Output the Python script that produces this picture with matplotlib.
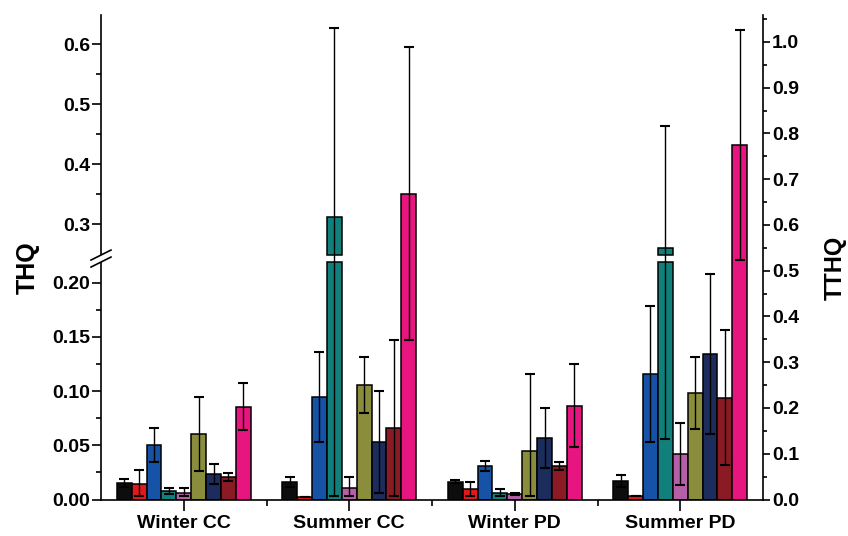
import numpy as np
import matplotlib
matplotlib.use("Agg")
import matplotlib.pyplot as plt
from matplotlib.ticker import FixedLocator, FixedFormatter
from matplotlib.patches import Rectangle
from matplotlib.lines import Line2D

plt.rcParams["font.family"] = ["Liberation Sans", "DejaVu Sans"]
plt.rcParams["font.weight"] = "bold"

# ---- data -------------------------------------------------------------
groups = ["Winter CC", "Summer CC", "Winter PD", "Summer PD"]

# THQ of the individual elements (left axis), mean and SD per group
thq_black = [0.0149, 0.0159, 0.0164, 0.0171]
thq_black_sd = [0.0037, 0.0046, 0.0016, 0.0055]
thq_red = [0.0140, 0.0026, 0.0097, 0.0035]
thq_red_sd = [0.0132, 0.0, 0.0062, 0.0]
thq_blue = [0.0502, 0.0947, 0.0309, 0.1157]
thq_blue_sd = [0.0154, 0.0415, 0.0046, 0.0630]
thq_teal = [0.0078, 0.313, 0.0063, 0.260]
thq_teal_sd = [0.0025, 0.315, 0.0034, 0.204]
thq_purple = [0.0057, 0.0109, 0.0048, 0.0419]
thq_purple_sd = [0.0046, 0.0096, 0.0010, 0.0289]
thq_olive = [0.0604, 0.1055, 0.0450, 0.0984]
thq_olive_sd = [0.0343, 0.0256, 0.0707, 0.0332]
thq_navy = [0.0232, 0.0533, 0.0570, 0.1341]
thq_navy_sd = [0.0092, 0.0470, 0.0276, 0.0735]
thq_darkred = [0.0210, 0.0662, 0.0309, 0.0938]
thq_darkred_sd = [0.0037, 0.0810, 0.0034, 0.0624]

# total THQ (right axis)
tthq = [0.203, 0.668, 0.205, 0.775]
tthq_sd = [0.051, 0.320, 0.0905, 0.251]

thq_series = [thq_black, thq_red, thq_blue, thq_teal, thq_purple,
              thq_olive, thq_navy, thq_darkred]
thq_sds = [thq_black_sd, thq_red_sd, thq_blue_sd, thq_teal_sd, thq_purple_sd,
           thq_olive_sd, thq_navy_sd, thq_darkred_sd]
thq_colors = ["#0d0d0d", "#e0191f", "#1652a6", "#12807a", "#b65fa9",
              "#8a8d3b", "#1c2c5c", "#8a1b24"]
tthq_color = "#e6157f"

thq_ticks_low = [0.00, 0.05, 0.10, 0.15, 0.20]
thq_ticks_high = [0.3, 0.4, 0.5, 0.6]
thq_minor = [0.025, 0.075, 0.125, 0.175, 0.35, 0.45, 0.55]
tthq_ticks = [0.0, 0.1, 0.2, 0.3, 0.4, 0.5, 0.6, 0.7, 0.8, 0.9, 1.0]
tthq_minor = [0.05, 0.15, 0.25, 0.35, 0.45, 0.55, 0.65, 0.75, 0.85, 0.95, 1.05]

# ---- broken left axis: piecewise linear scale ------------------------
K_LO = 1085.0      # scale below the break
K_HI = 600.0       # scale above the break
Y_LO = 0.2189      # top of the lower segment
Y_HI = 0.2488      # bottom of the upper segment
P_LO = Y_LO * K_LO
P_HI = P_LO + 7.0
Y_TOP = 0.649


def fwd(y):
    y = np.asarray(y, dtype=float)
    mid = P_LO + (y - Y_LO) * (P_HI - P_LO) / (Y_HI - Y_LO)
    return np.where(y <= Y_LO, y * K_LO,
                    np.where(y >= Y_HI, P_HI + (y - Y_HI) * K_HI, mid))


def inv(p):
    p = np.asarray(p, dtype=float)
    mid = Y_LO + (p - P_LO) * (Y_HI - Y_LO) / (P_HI - P_LO)
    return np.where(p <= P_LO, p / K_LO,
                    np.where(p >= P_HI, Y_HI + (p - P_HI) / K_HI, mid))


W, H = 848, 536
fig = plt.figure(figsize=(W / 100, H / 100), dpi=100)
ax = fig.add_axes([101 / W, (H - 499.5) / H, 662 / W, 484.5 / H])
ax.set_yscale("function", functions=(fwd, inv))
ax.set_ylim(0, Y_TOP)
ax.set_xlim(0.5, 4.5)

BAR_W = 0.09
centers = np.arange(1, len(groups) + 1)
err_kw = dict(fmt="none", ecolor="black", elinewidth=1.0, capsize=3.6,
              capthick=1.5)
bar_kw = dict(width=BAR_W, edgecolor="black", linewidth=1.1, zorder=2)

for i, (vals, sds, col) in enumerate(zip(thq_series, thq_sds, thq_colors)):
    vals = np.asarray(vals)
    sds = np.asarray(sds)
    x = centers + (i - 4) * BAR_W
    ax.bar(x, np.minimum(vals, Y_LO), color=col, **bar_kw)
    tall = vals > Y_HI
    if tall.any():
        ax.bar(x[tall], vals[tall] - Y_HI, bottom=Y_HI, color=col, **bar_kw)
    lower = np.clip(np.minimum(sds, vals - 0.003), 0, None)
    ax.errorbar(x, vals, yerr=[lower, sds], zorder=3, **err_kw)

# right axis: total THQ
ax2 = ax.twinx()
ax2.set_ylim(0, 1.059)
vals = np.asarray(tthq)
sds = np.asarray(tthq_sd)
x = centers + 4 * BAR_W
ax2.bar(x, vals, color=tthq_color, **bar_kw)
ax2.errorbar(x, vals, yerr=[sds, sds], zorder=3, **err_kw)

# spines
for a in (ax, ax2):
    a.spines["top"].set_visible(False)
    for s in a.spines.values():
        s.set_linewidth(1.2)
ax.spines["right"].set_visible(False)
ax2.spines["left"].set_visible(False)
ax2.spines["bottom"].set_visible(False)

# ticks
ax.yaxis.set_major_locator(FixedLocator(thq_ticks_low + thq_ticks_high))
ax.yaxis.set_major_formatter(FixedFormatter(
    [f"{t:.2f}" for t in thq_ticks_low] + [f"{t:.1f}" for t in thq_ticks_high]))
ax.yaxis.set_minor_locator(FixedLocator(thq_minor))
ax.xaxis.set_major_locator(FixedLocator(centers))
ax.xaxis.set_major_formatter(FixedFormatter(groups))
ax.xaxis.set_minor_locator(FixedLocator(centers[:-1] + 0.5))
ax2.yaxis.set_major_locator(FixedLocator(tthq_ticks))
ax2.yaxis.set_major_formatter(FixedFormatter([f"{t:.1f}" for t in tthq_ticks]))
ax2.yaxis.set_minor_locator(FixedLocator(tthq_minor))

ax.tick_params(axis="y", which="major", direction="out", length=6.5,
               width=1.2, pad=1.5, labelsize=14)
ax.tick_params(axis="y", which="minor", direction="out", length=3.5, width=1.2)
ax.tick_params(axis="x", which="major", direction="out", length=8,
               width=1.2, pad=3, labelsize=14)
ax.tick_params(axis="x", which="minor", direction="out", length=4.5, width=1.2)
ax2.tick_params(axis="y", which="major", direction="out", length=5,
                width=1.2, pad=1.5, labelsize=14)
ax2.tick_params(axis="y", which="minor", direction="out", length=3, width=1.2)

# break marks on the left axis
f_lo = float(fwd(Y_LO) / fwd(Y_TOP))
f_hi = float(fwd(Y_HI) / fwd(Y_TOP))
ax.add_patch(Rectangle((-0.006, f_lo), 0.012, f_hi - f_lo,
                       transform=ax.transAxes, facecolor="white",
                       edgecolor="none", clip_on=False, zorder=10))
dx = 10 / 662
dy = 5 / 484.5
for f in (f_lo, f_hi):
    ax.add_line(Line2D([-dx, dx], [f - dy, f + dy], transform=ax.transAxes,
                       color="black", linewidth=1.2, clip_on=False, zorder=11))

fig.text(28 / W, 1 - 268 / H, "THQ", rotation=90, ha="center", va="center",
         fontsize=18, fontweight="bold")
fig.text(835 / W, 1 - 268 / H, "TTHQ", rotation=90, ha="center", va="center",
         fontsize=17, fontweight="bold")

fig.savefig("out.png", dpi=100, facecolor="white")
